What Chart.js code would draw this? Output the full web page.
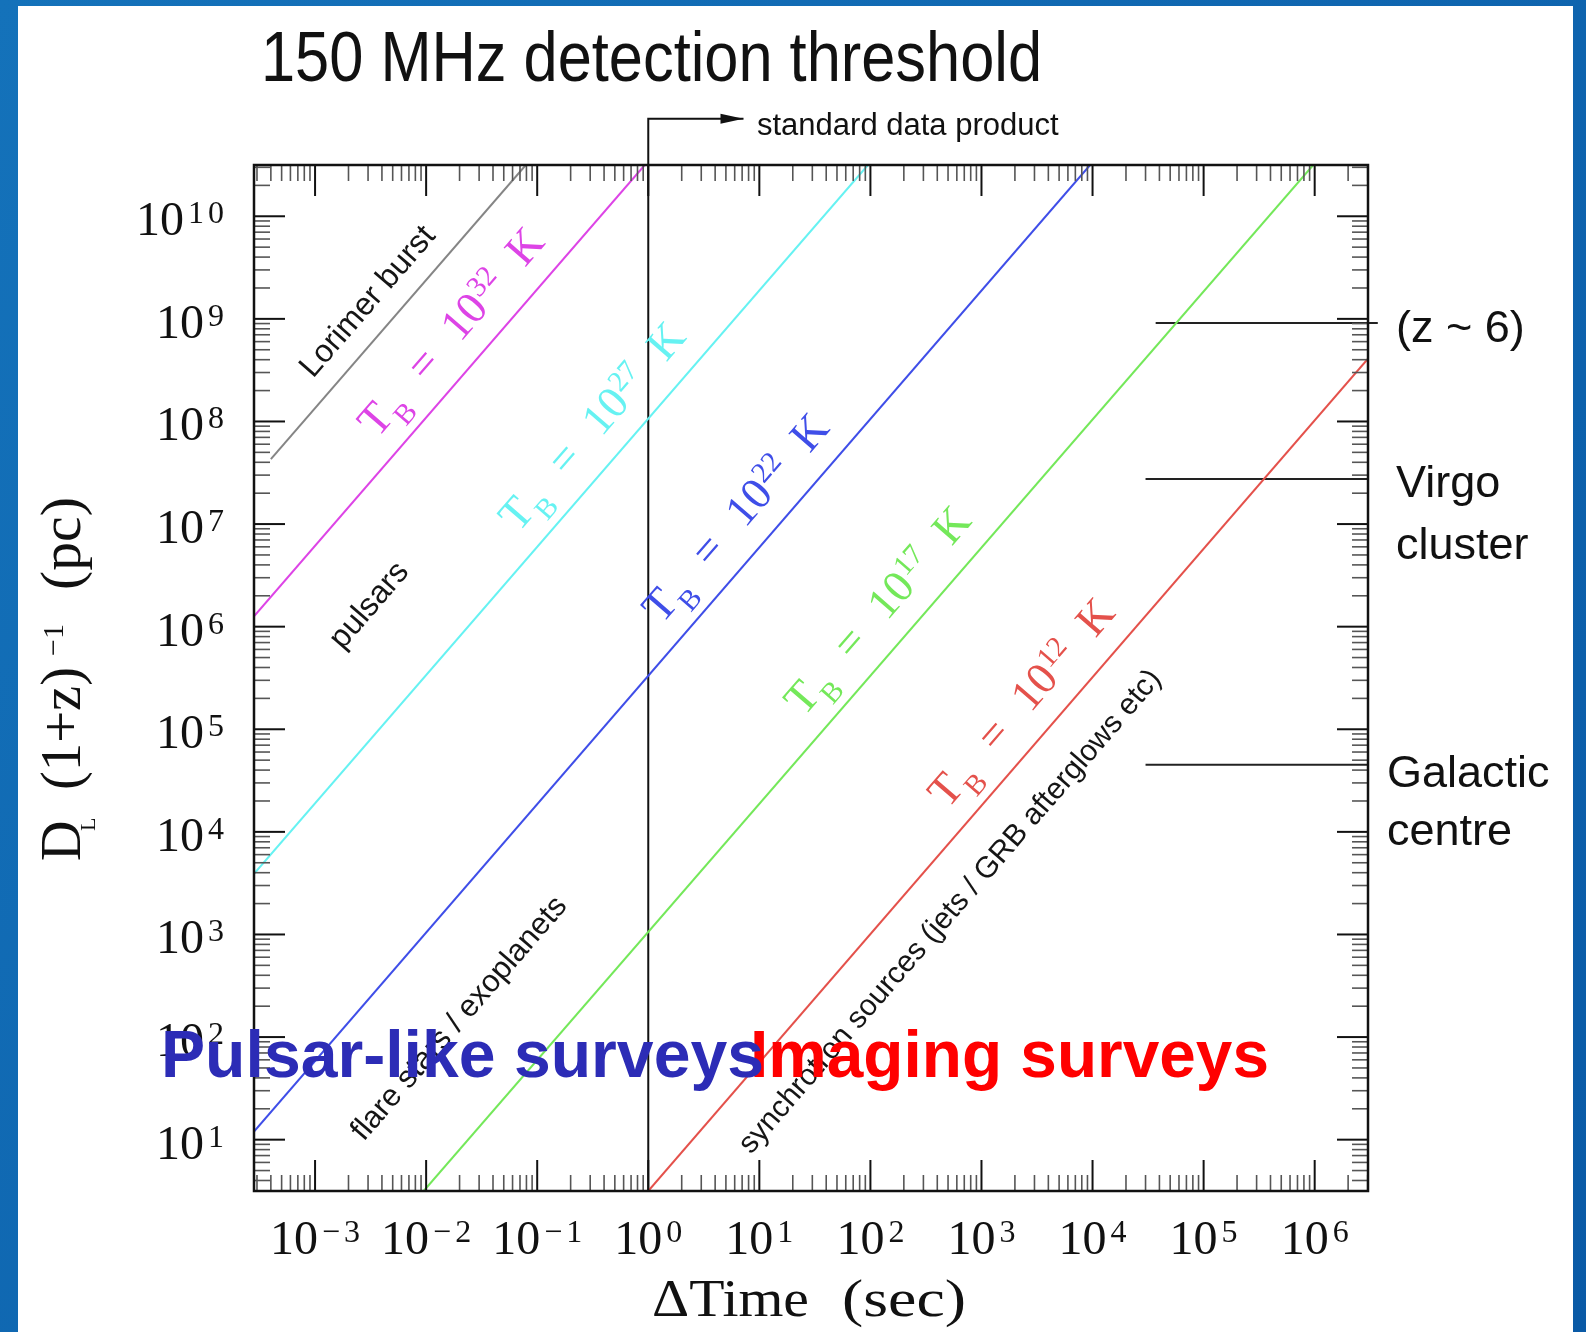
<!DOCTYPE html>
<html>
<head>
<meta charset="utf-8">
<title>150 MHz detection threshold</title>
<script src="https://cdn.jsdelivr.net/npm/chart.js@4.4.1/dist/chart.umd.min.js"></script>
<style>
  html, body { margin: 0; padding: 0; background: #0e66ae; }
  canvas { display: block; }
</style>
</head>
<body>
<canvas id="chart" width="1586" height="1332" style="width:1586px;height:1332px"></canvas>
<script>
// values (time in s, distance in pc)
const xTickExps = [-3, -2, -1, 0, 1, 2, 3, 4, 5, 6];
const yTickExps = [1, 2, 3, 4, 5, 6, 7, 8, 9, 10];
const timeMin = 2.82e-4, timeMax = 3.02e6;
const distMin = 3.16, distMax = 3.16e10;

const lorimerTime = [4.0e-4, 0.079];
const lorimerDist = [4.3e7, 3.16e10];
const tb32Time = [2.82e-4, 0.93];
const tb32Dist = [1.26e6, 3.16e10];
const tb27Time = [2.82e-4, 95];
const tb27Dist = [3.9e3, 3.16e10];
const tb22Time = [2.82e-4, 9.5e3];
const tb22Dist = [12, 3.16e10];
const tb17Time = [9.5e-3, 9.7e5];
const tb17Dist = [3.16, 3.16e10];
const tb12Time = [1.0, 3.02e6];
const tb12Dist = [3.16, 4.1e8];
const tbExps = ["32", "27", "22", "17", "12"];

// horizontal reference distances
const refNames = [["(z ~ 6)"], ["Virgo", "cluster"], ["Galactic", "centre"]];
const refDist = [9.1e8, 2.75e7, 4.5e4];
const refTimeStart = [3.7e4, 3.0e4, 3.0e4];
const refTimeEnd = [3.7e6, 3.02e6, 3.02e6];

// "standard data product" marker
const sdpTime = 1;
const sdpTopDist = 8.9e10;
const sdpArrowTime = 7.2;

const colGray = "#858585", colMag = "#dd44e6", colCyan = "#66f2f2",
      colBlue = "#3f4ee8", colGreen = "#74e85a", colRed = "#e4514b";

function pts(xs, ys) { return xs.map((x, i) => ({ x: x, y: ys[i] })); }

function lineSet(data, color, extra) {
  return Object.assign({ data: data, borderColor: color, borderWidth: 2, showLine: true,
    pointRadius: 0, fill: false, tension: 0 }, extra || {});
}

const datasets = [
  lineSet(pts(lorimerTime, lorimerDist), colGray),
  lineSet(pts(tb32Time, tb32Dist), colMag),
  lineSet(pts(tb27Time, tb27Dist), colCyan),
  lineSet(pts(tb22Time, tb22Dist), colBlue),
  lineSet(pts(tb17Time, tb17Dist), colGreen),
  lineSet(pts(tb12Time, tb12Dist), colRed),
  lineSet([{ x: sdpTime, y: distMin }, { x: sdpTime, y: sdpTopDist }, { x: sdpArrowTime, y: sdpTopDist }],
          "#111", { clip: false }),
];
refDist.forEach((d, i) => {
  datasets.push(lineSet([{ x: refTimeStart[i], y: d }, { x: refTimeEnd[i], y: d }], "#222", { clip: false }));
});

const SERIF = '"Liberation Serif", "Times New Roman", serif';
const SANS = '"Liberation Sans", Arial, Helvetica, sans-serif';

// draw text squeezed/stretched to a given width
function fitText(ctx, txt, x, y, w) {
  const nat = ctx.measureText(txt).width;
  ctx.save();
  ctx.translate(x, y);
  ctx.scale(w / nat, 1);
  ctx.fillText(txt, 0, 0);
  ctx.restore();
}

// "10" with a superscript exponent
function powLabel(ctx, exp, x, baseY, align) {
  const chars = [...String(exp).replace("-", "\u2212")];
  const gap = 4;
  ctx.font = "48px " + SERIF;
  const wMain = ctx.measureText("10").width;
  ctx.font = "32px " + SERIF;
  const ws = chars.map(c => ctx.measureText(c).width);
  const wSup = ws.reduce((a, b) => a + b, 0) + gap * (chars.length - 1);
  const total = wMain + 4 + wSup;
  const x0 = align === "right" ? x - total : x - total / 2;
  ctx.font = "48px " + SERIF;
  ctx.fillText("10", x0, baseY);
  let cx = x0 + wMain + 4;
  ctx.font = "32px " + SERIF;
  chars.forEach((c, i) => { ctx.fillText(c, cx, baseY - 12); cx += ws[i] + gap; });
}

function linePixels(chart, idx) {
  const d = chart.data.datasets[idx].data;
  const xs = chart.scales.x, ys = chart.scales.y;
  return [d[0], d[d.length - 1]].map(p => ({ x: xs.getPixelForValue(p.x), y: ys.getPixelForValue(p.y) }));
}

// T_B label drawn along a line, starting above the line at a given time
function tbLabel(ctx, chart, idx, atTime, color, exp) {
  const [p0, p1] = linePixels(chart, idx);
  const ux = p1.x - p0.x, uy = p1.y - p0.y, L = Math.hypot(ux, uy);
  const dx = ux / L, dy = uy / L;
  const px = chart.scales.x.getPixelForValue(atTime);
  const t = (px - p0.x) / ux;
  const off = 23;
  ctx.save();
  ctx.translate(p0.x + t * ux + dy * off, p0.y + t * uy - dx * off);
  ctx.rotate(Math.atan2(dy, dx));
  ctx.fillStyle = color;
  ctx.font = "45px " + SERIF;
  ctx.fillText("T", 0, 0);
  ctx.fillText("=", 74, 0);
  ctx.fillText("10", 127, 0);
  ctx.fillText("K", 226, 0);
  ctx.font = "29px " + SERIF;
  ctx.fillText("B", 28, 14);
  ctx.fillText(exp, 173, -15);
  ctx.restore();
}

// plain rotated label centred on a (time, distance) point, parallel to a line
function slantLabel(ctx, chart, idx, time, dist, txt, size) {
  const [p0, p1] = linePixels(chart, idx);
  ctx.save();
  ctx.translate(chart.scales.x.getPixelForValue(time), chart.scales.y.getPixelForValue(dist));
  ctx.rotate(Math.atan2(p1.y - p0.y, p1.x - p0.x));
  ctx.font = size + "px " + SANS;
  ctx.fillStyle = "#151515";
  ctx.textAlign = "center";
  ctx.textBaseline = "middle";
  ctx.fillText(txt, 0, 0);
  ctx.restore();
}

const background = {
  id: "background",
  beforeDraw(chart) {
    const ctx = chart.ctx, w = chart.width, h = chart.height;
    ctx.save();
    const g = ctx.createLinearGradient(0, 0, w, h);
    g.addColorStop(0, "#1472ba");
    g.addColorStop(1, "#0a5aa6");
    ctx.fillStyle = g;
    ctx.fillRect(0, 0, w, h);
    ctx.fillStyle = "#ffffff";
    ctx.fillRect(18, 6, 1573 - 18, h - 6);
    ctx.restore();
  }
};

const frame = {
  id: "frame",
  afterDatasetsDraw(chart) {
    const { ctx, chartArea: a, scales: { x, y } } = chart;
    ctx.save();
    const seg = (x1, y1, x2, y2) => { ctx.beginPath(); ctx.moveTo(x1, y1); ctx.lineTo(x2, y2); ctx.stroke(); };
    const xTick = (v, len) => { const p = x.getPixelForValue(v); seg(p, a.bottom, p, a.bottom - len); seg(p, a.top, p, a.top + len); };
    const yTick = (v, len) => { const p = y.getPixelForValue(v); seg(a.left, p, a.left + len, p); seg(a.right, p, a.right - len, p); };
    // minor ticks
    ctx.strokeStyle = "#555";
    ctx.lineWidth = 1.6;
    for (let e = -4; e <= 6; e++) for (let m = 2; m <= 9; m++) {
      const v = m * Math.pow(10, e);
      if (v > timeMin && v < timeMax) xTick(v, 16);
    }
    for (let e = 0; e <= 10; e++) for (let m = 2; m <= 9; m++) {
      const v = m * Math.pow(10, e);
      if (v > distMin && v < distMax) yTick(v, 16);
    }
    // major ticks
    ctx.strokeStyle = "#111";
    ctx.lineWidth = 2;
    xTickExps.forEach(e => xTick(Math.pow(10, e), 31));
    yTickExps.forEach(e => yTick(Math.pow(10, e), 31));
    // frame
    ctx.lineWidth = 2.5;
    ctx.strokeStyle = "#111";
    ctx.strokeRect(a.left, a.top, a.right - a.left, a.bottom - a.top);
    ctx.restore();
  }
};

const labels = {
  id: "labels",
  afterDraw(chart) {
    const { ctx, chartArea: a, scales: { x, y } } = chart;
    ctx.save();
    ctx.fillStyle = "#111";
    ctx.textBaseline = "alphabetic";
    ctx.textAlign = "left";

    // tick labels
    xTickExps.forEach(e => powLabel(ctx, e, x.getPixelForValue(Math.pow(10, e)), a.bottom + 63, "center"));
    yTickExps.forEach(e => {
      const p = y.getPixelForValue(Math.pow(10, e));
      powLabel(ctx, e, a.left - 30, p + 19, "right");
    });

    // axis titles
    ctx.font = "53px " + SERIF;
    fitText(ctx, "\u0394Time", 652, 1316, 157);
    fitText(ctx, "(sec)", 842, 1316, 124);
    ctx.save();
    ctx.translate(80, 861);
    ctx.rotate(-Math.PI / 2);
    ctx.font = "56px " + SERIF;
    ctx.fillText("D", 0, 0);
    fitText(ctx, "(1+z)", 71, 0, 123);
    fitText(ctx, "(pc)", 271, 0, 93);
    ctx.font = "22px " + SERIF;
    ctx.fillText("L", 30, 15);
    ctx.font = "30px " + SERIF;
    ctx.fillText("\u22121", 205, -17);
    ctx.restore();

    // title
    ctx.font = "70px " + SANS;
    fitText(ctx, "150 MHz detection threshold", 261, 81, 781);

    // standard data product arrow head + text
    const tipX = x.getPixelForValue(sdpArrowTime), tipY = y.getPixelForValue(sdpTopDist);
    ctx.beginPath();
    ctx.moveTo(tipX, tipY);
    ctx.lineTo(tipX - 23, tipY - 5);
    ctx.lineTo(tipX - 23, tipY + 5);
    ctx.closePath();
    ctx.fill();
    ctx.font = "31px " + SANS;
    ctx.fillText("standard data product", 757, 135);

    // reference labels on the right
    ctx.font = "45px " + SANS;
    ctx.fillText(refNames[0][0], 1396, 342);
    ctx.fillText(refNames[1][0], 1396, 497);
    ctx.fillText(refNames[1][1], 1396, 559);
    ctx.fillText(refNames[2][0], 1387, 787);
    ctx.fillText(refNames[2][1], 1387, 845);

    // line labels
    const tbColors = [colMag, colCyan, colBlue, colGreen, colRed];
    const tbAt = [5.2e-3, 0.097, 1.9, 36, 710];
    tbExps.forEach((ex, i) => tbLabel(ctx, chart, i + 1, tbAt[i], tbColors[i], ex));
    slantLabel(ctx, chart, 0, 3.0e-3, 1.46e9, "Lorimer burst", 32);
    slantLabel(ctx, chart, 1, 3.1e-3, 1.6e6, "pulsars", 32);
    slantLabel(ctx, chart, 4, 0.020, 151, "flare stars / exoplanets", 31);
    slantLabel(ctx, chart, 5, 525, 1660, "synchrotron sources (jets / GRB afterglows etc)", 30);

    // survey overlays
    ctx.font = "bold 66px " + SANS;
    ctx.fillStyle = "#ff0000";
    fitText(ctx, "Imaging surveys", 750, 1077, 519);
    ctx.fillStyle = "#2c2cb6";
    fitText(ctx, "Pulsar-like surveys", 161, 1077, 603);
    ctx.restore();
  }
};

new Chart(document.getElementById("chart").getContext("2d"), {
  type: "scatter",
  data: { datasets: datasets },
  options: {
    responsive: false,
    devicePixelRatio: 1,
    animation: false,
    layout: { padding: { left: 254, top: 165, right: 218, bottom: 141 } },
    plugins: { legend: { display: false }, tooltip: { enabled: false }, title: { display: false } },
    scales: {
      x: { type: "logarithmic", min: timeMin, max: timeMax, display: false },
      y: { type: "logarithmic", min: distMin, max: distMax, display: false },
    },
  },
  plugins: [background, frame, labels],
});
</script>
</body>
</html>
